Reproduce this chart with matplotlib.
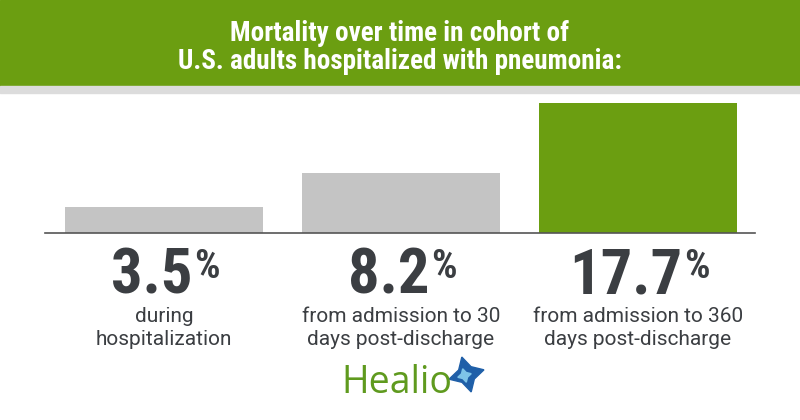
#!/usr/bin/env python3

'''Mortality over time in pneumonia cohort, bar infographic.'''

import matplotlib
matplotlib.use('Agg')
import matplotlib.pyplot as plt
import matplotlib.transforms as mtransforms
from matplotlib.patches import Rectangle

values = [3.5, 8.2, 17.7]
labels = ['3.5', '8.2', '17.7']
captions = [('during', 'hospitalization'),
            ('from admission to 30', 'days post-discharge'),
            ('from admission to 360', 'days post-discharge')]
bar_colors = ['#c4c4c4', '#c4c4c4', '#6b9e11']
title_lines = ['Mortality over time in cohort of',
               'U.S. adults hospitalized with pneumonia:']

GREEN = '#6b9e11'
DARK = '#3b3e42'
COND = ['Roboto Condensed', 'DejaVu Sans']
ROBO = ['Roboto', 'DejaVu Sans']

W, H = 800, 420
fig = plt.figure(figsize=(W / 100, H / 100), dpi=100)
fig.patch.set_facecolor('white')


def fy(px):
    return 1 - px / H


# header band + gray strip
fig.patches.append(Rectangle((0, fy(86)), 1, 86 / H, transform=fig.transFigure,
                             color=GREEN, zorder=0))
fig.patches.append(Rectangle((0, fy(93)), 1, 7 / H, transform=fig.transFigure,
                             color='#dcdcdc', zorder=0))
for line, base in zip(title_lines, [41, 69]):
    fig.text(0.5, fy(base), line, ha='center', va='baseline', color='white',
             fontsize=19.5, fontweight='bold', family=COND)

# bars
base_px, top_px = 233, 103
ax = fig.add_axes([45 / W, fy(base_px), 710 / W, (base_px - top_px) / H])
x = list(range(len(values)))
ax.bar(x, values, width=0.835, color=bar_colors)
ax.set_xlim(-0.502, 2.494)
ax.set_ylim(0, 17.7)
ax.set_xticks([])
ax.set_yticks([])
for side in ['top', 'left', 'right']:
    ax.spines[side].set_visible(False)
ax.spines['bottom'].set_color('#555555')
ax.spines['bottom'].set_linewidth(1.2)

trans = mtransforms.blended_transform_factory(ax.transData, fig.transFigure)
renderer = fig.canvas.get_renderer()
for i, (lab, cap) in enumerate(zip(labels, captions)):
    t = ax.text(i - 0.05, fy(294), lab, transform=trans, ha='center', va='baseline',
                color=DARK, fontsize=45, fontweight='bold', family=COND)
    bb = t.get_window_extent(renderer)
    fig.text((bb.x1 + 1) / W, fy(248), '%', ha='left', va='top',
             color=DARK, fontsize=29, fontweight='bold', family=COND)
    for line, base in zip(cap, [322, 345]):
        ax.text(i, fy(base), line, transform=trans, ha='center', va='baseline',
                color=DARK, fontsize=15, family=ROBO)

# logo
fig.text(341 / W, fy(393), 'Healio', ha='left', va='baseline', color='#5f9a1e',
         fontsize=27, family=['Open Sans', 'DejaVu Sans'])
fig.add_artist(plt.Line2D([466 / W], [fy(374)], marker=(4, 1, 15), markersize=26,
                          color='#1f5fa8', transform=fig.transFigure))
fig.add_artist(plt.Line2D([464 / W], [fy(375)], marker=(4, 1, 15), markersize=10,
                          color='#7ec4e8', transform=fig.transFigure))

fig.savefig('out.png', dpi=100)
